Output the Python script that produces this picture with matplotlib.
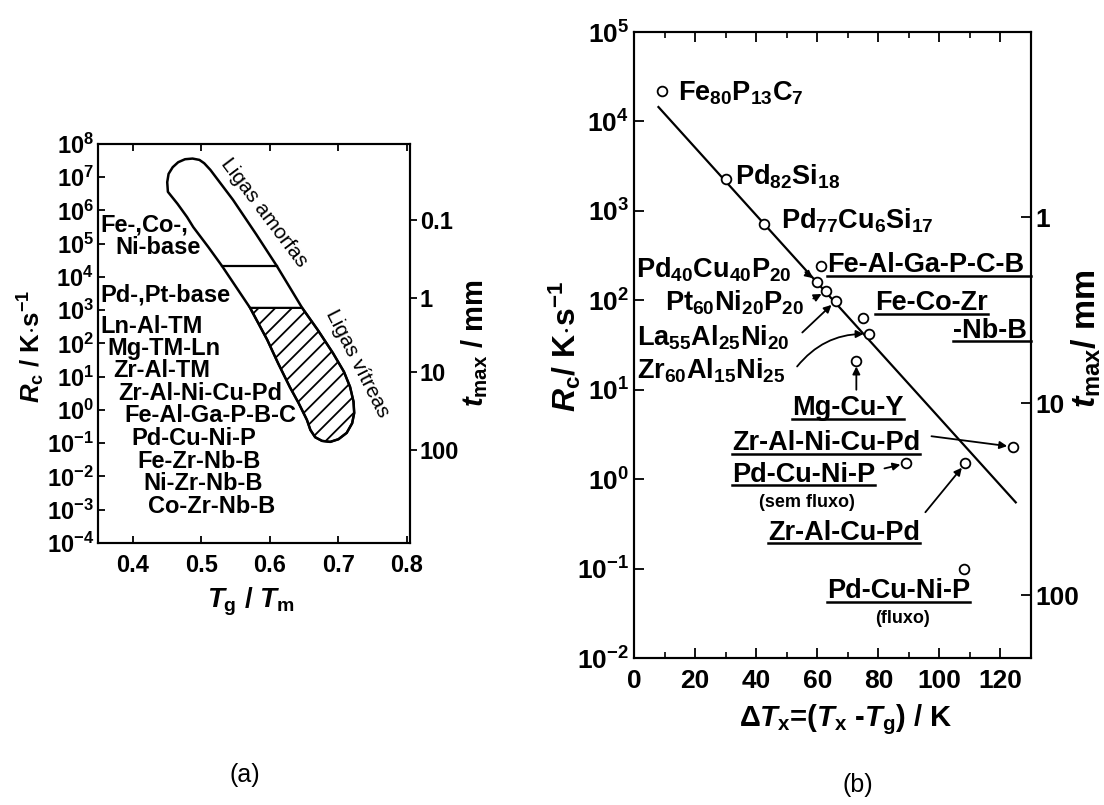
import matplotlib
matplotlib.use("Agg")
import matplotlib.pyplot as plt
from matplotlib.patches import Polygon
from matplotlib.ticker import NullLocator, MultipleLocator, FixedLocator

plt.rcParams['font.family'] = ['Liberation Sans', 'DejaVu Sans']
plt.rcParams['font.weight'] = 'bold'
plt.rcParams['mathtext.fontset'] = 'custom'
plt.rcParams['mathtext.rm'] = 'Liberation Sans:bold'
plt.rcParams['mathtext.it'] = 'Liberation Sans:italic:bold'
plt.rcParams['mathtext.bf'] = 'Liberation Sans:bold'
plt.rcParams['hatch.linewidth'] = 1.3
plt.rcParams['axes.linewidth'] = 1.5

# ---------------- panel (a): Rc vs Tg/Tm band ----------------
# outline of the band (x = Tg/Tm, log10 Rc), clockwise from the top cap
band_x = [0.450, 0.452, 0.458, 0.466, 0.476, 0.487, 0.497, 0.504,
          0.513, 0.546, 0.580, 0.610, 0.630, 0.647, 0.670, 0.692, 0.708,
          0.717, 0.722, 0.723, 0.720, 0.712, 0.700, 0.688, 0.676, 0.666,
          0.659, 0.654, 0.642, 0.629, 0.612, 0.596, 0.571, 0.530, 0.510,
          0.488, 0.479, 0.465, 0.451]
band_logrc = [6.85, 7.10, 7.30, 7.45, 7.54, 7.56, 7.52, 7.42,
              7.22, 6.32, 5.28, 4.33, 3.65, 3.07, 2.40, 1.71, 1.15,
              0.69, 0.25, -0.09, -0.40, -0.69, -0.88, -0.96, -0.93, -0.82,
              -0.60, -0.30, 0.20, 0.69, 1.40, 2.11, 3.07, 4.33, 4.90,
              5.50, 5.80, 6.20, 6.56]
split_logrc = 4.33     # Fe/Co/Ni-base | Pd/Pt-base boundary
hatch_logrc = 3.07     # bulk glass region (hatched) below this

a_labels = ['Fe-,Co-,', 'Ni-base', 'Pd-,Pt-base', 'Ln-Al-TM', 'Mg-TM-Ln',
            'Zr-Al-TM', 'Zr-Al-Ni-Cu-Pd', 'Fe-Al-Ga-P-B-C', 'Pd-Cu-Ni-P',
            'Fe-Zr-Nb-B', 'Ni-Zr-Nb-B', 'Co-Zr-Nb-B']
a_label_x = [0.352, 0.374, 0.352, 0.352, 0.362, 0.371, 0.378, 0.388,
             0.398, 0.406, 0.415, 0.422]
a_label_logrc = [5.37, 4.68, 3.26, 2.31, 1.66, 0.98, 0.30, -0.35,
                 -1.06, -1.75, -2.42, -3.10]

a_tmax_ticks = [0.1, 1, 10, 100]
a_tmax_logrc = [5.71, 3.37, 1.14, -1.20]

# ---------------- panel (b): Rc vs delta Tx ----------------
b_names = [r'Fe$_{80}$P$_{13}$C$_7$', r'Pd$_{82}$Si$_{18}$',
           r'Pd$_{77}$Cu$_6$Si$_{17}$', 'Fe-Al-Ga-P-C-B',
           r'Pd$_{40}$Cu$_{40}$P$_{20}$', r'Pt$_{60}$Ni$_{20}$P$_{20}$',
           r'La$_{55}$Al$_{25}$Ni$_{20}$', 'Fe-Co-Zr',
           r'Zr$_{60}$Al$_{15}$Ni$_{25}$', 'Mg-Cu-Y', 'Zr-Al-Ni-Cu-Pd',
           'Pd-Cu-Ni-P', 'Zr-Al-Cu-Pd', 'Pd-Cu-Ni-P']
b_dtx = [9, 30, 42.6, 61.3, 60, 63, 66, 75, 77, 72.8, 124, 89, 108.5, 108]
b_rc = [2.2e4, 2.3e3, 7.2e2, 2.45e2, 1.62e2, 1.26e2, 98, 63, 42, 21,
        2.3, 1.5, 1.5, 0.1]
b_underline = [False, False, False, True, False, False, False, True,
               False, True, True, True, True, True]
b_label_x = [14.4, 33.1, 48.2, 63.3, 0.7, 10.2, 1.0, 79.0, 1.0, 51.8,
             32.1, 32.1, 43.9, 63.3]
b_label_logrc = [4.24, 3.29, 2.80, 2.315, 2.25, 1.89, 1.50, 1.89, 1.13,
                 0.716, 0.324, -0.03, -0.68, -1.33]
# arrow tails (None = no arrow)
b_arrow_x = [None, None, None, None, 56.1, 58.7, 55.1, None, 53.4, 72.8,
             97.4, 82.0, 95.4, None]
b_arrow_logrc = [None, None, None, None, 2.315, 2.02, 1.64, None, 1.26,
                 1.0, 0.48, 0.12, -0.37, None]

fit_dtx = [8, 125]
fit_rc = [1.45e4, 0.55]

b_tmax_ticks = [1, 10, 100]
b_tmax_logrc = [2.93, 0.85, -1.30]

fig = plt.figure(figsize=(11.04, 8.05), dpi=100)

# ================= (a) =================
ax = fig.add_axes([0.0888, 0.3255, 0.2826, 0.4957])
ax.set_yscale('log')
ax.set_xlim(0.349, 0.8045)
ax.set_ylim(1e-4, 1e8)
ax.set_xticks([0.4, 0.5, 0.6, 0.7, 0.8])
ax.set_yticks([10.0 ** k for k in range(-4, 9)])
ax.yaxis.set_minor_locator(NullLocator())
ax.tick_params(direction='in', length=5, width=1.3, labelsize=17,
               top=True, right=False)
ax.tick_params(axis='x', pad=8)
ax.tick_params(axis='y', pad=3)

pts = [(x, 10.0 ** v) for x, v in zip(band_x, band_logrc)]
hatch_pts = [(x, 10.0 ** v) for x, v in zip(band_x, band_logrc)
             if v <= hatch_logrc + 1e-9]
ax.add_patch(Polygon(hatch_pts, closed=True, fill=False, hatch='//',
                     edgecolor='k', lw=1.6))
ax.add_patch(Polygon(pts, closed=True, fill=False, edgecolor='k', lw=1.8,
                     joinstyle='round'))
split_x = [x for x, v in zip(band_x, band_logrc) if abs(v - split_logrc) < 1e-9]
ax.plot([min(split_x), max(split_x)], [10 ** split_logrc] * 2, color='k', lw=1.6)

for s, x, v in zip(a_labels, a_label_x, a_label_logrc):
    ax.text(x, 10.0 ** v, s, fontsize=17, fontweight='bold', ha='left',
            va='baseline')
ax.text(0.592, 10 ** 5.95, 'Ligas amorfas', fontsize=15, fontweight='normal',
        rotation=-53, ha='center', va='center', rotation_mode='anchor')
ax.text(0.727, 10 ** 1.41, 'Ligas vítreas', fontsize=15, fontweight='normal',
        rotation=-63, ha='center', va='center', rotation_mode='anchor')

tw = ax.twinx()
tw.set_yscale('log')
tw.set_ylim(ax.get_ylim())
tw.yaxis.set_major_locator(FixedLocator([10.0 ** v for v in a_tmax_logrc]))
tw.set_yticklabels([str(t) for t in a_tmax_ticks])
tw.yaxis.set_minor_locator(NullLocator())
tw.tick_params(direction='out', length=5, width=1.3, labelsize=17, pad=2)

fig.text(0.028, 0.569, r'$R_\mathrm{c}$ / K$\cdot$s$^{-1}$', fontsize=18.5,
         rotation=90, ha='center', va='center')
fig.text(0.430, 0.574, r'$t_\mathrm{max}$ / mm', fontsize=21,
         rotation=90, ha='center', va='center')
fig.text(0.227, 0.252, r'$T_\mathrm{g}$ / $T_\mathrm{m}$', fontsize=20,
         ha='center', va='center')
fig.text(0.222, 0.037, '(a)', fontsize=18, fontweight='normal',
         ha='center', va='center')

# ================= (b) =================
bx = fig.add_axes([0.5743, 0.1826, 0.3596, 0.7776])
bx.set_yscale('log')
bx.set_xlim(0, 130)
bx.set_ylim(1e-2, 1e5)
bx.set_yticks([10.0 ** k for k in range(-2, 6)])
bx.yaxis.set_minor_locator(NullLocator())
bx.xaxis.set_major_locator(FixedLocator([0, 20, 40, 60, 80, 100, 120]))
bx.xaxis.set_minor_locator(MultipleLocator(10))
bx.tick_params(direction='in', length=7, width=1.3, labelsize=19,
               top=True, right=False)
bx.tick_params(which='minor', direction='in', length=4, width=1.2, top=True)
bx.tick_params(axis='x', pad=8)

bx.plot(fit_dtx, fit_rc, color='k', lw=1.6, zorder=2)
bx.plot(b_dtx, b_rc, 'o', ms=7, mfc='white', mec='k', mew=1.3, zorder=3,
        clip_on=False)

texts = []
for i, s in enumerate(b_names):
    t = bx.text(b_label_x[i], 10.0 ** b_label_logrc[i], s, fontsize=19.5,
                fontweight='bold', ha='left', va='baseline', zorder=4)
    texts.append(t)
    if b_arrow_x[i] is not None:
        rad = -0.25 if i == 8 else 0.0
        bx.annotate('', xy=(b_dtx[i], b_rc[i]),
                    xytext=(b_arrow_x[i], 10.0 ** b_arrow_logrc[i]),
                    arrowprops=dict(arrowstyle='-|>', color='k', lw=1.3,
                                    mutation_scale=11, shrinkA=0, shrinkB=4,
                                    connectionstyle='arc3,rad=%g' % rad))

nb = bx.text(104.6, 10 ** 1.58, '-Nb-B', fontsize=19.5, fontweight='bold',
             ha='left', va='baseline')
bx.text(56.7, 10 ** -0.31, '(sem fluxo)', fontsize=13, fontweight='bold',
        ha='center', va='baseline')
bx.text(87.9, 10 ** -1.61, '(fluxo)', fontsize=13, fontweight='bold',
        ha='center', va='baseline')

# underlines
fig.canvas.draw()
r = fig.canvas.get_renderer()
inv = bx.transAxes.inverted()
to_right = {'Fe-Al-Ga-P-C-B'}
ul = [(t, t.get_text() in to_right) for t, u in zip(texts, b_underline) if u]
ul.append((nb, True))
for t, ext in ul:
    bb = t.get_window_extent(r).transformed(inv)
    x1 = 1.0 if ext else bb.x1
    y = bb.y0 + 0.004
    bx.plot([bb.x0, x1], [y, y], transform=bx.transAxes, color='k', lw=1.8,
            clip_on=False)

tw2 = bx.twinx()
tw2.set_yscale('log')
tw2.set_ylim(bx.get_ylim())
tw2.yaxis.set_major_locator(FixedLocator([10.0 ** v for v in b_tmax_logrc]))
tw2.set_yticklabels([str(t) for t in b_tmax_ticks])
tw2.yaxis.set_minor_locator(NullLocator())
tw2.tick_params(direction='in', length=7, width=1.3, labelsize=19, pad=3)

fig.text(0.512, 0.570, r'$R_\mathrm{c}$/ K$\cdot$s$^{-1}$', fontsize=23,
         rotation=90, ha='center', va='center')
fig.text(0.984, 0.580, r'$t_\mathrm{max}$/ mm', fontsize=24.5,
         rotation=90, ha='center', va='center')
fig.text(0.766, 0.106,
         r'$\mathit{\Delta T}_\mathrm{x}$=($T_\mathrm{x}$ -$T_\mathrm{g}$) / K',
         fontsize=21, ha='center', va='center')
fig.text(0.777, 0.025, '(b)', fontsize=18, fontweight='normal',
         ha='center', va='center')

fig.savefig('out.png', dpi=100)
